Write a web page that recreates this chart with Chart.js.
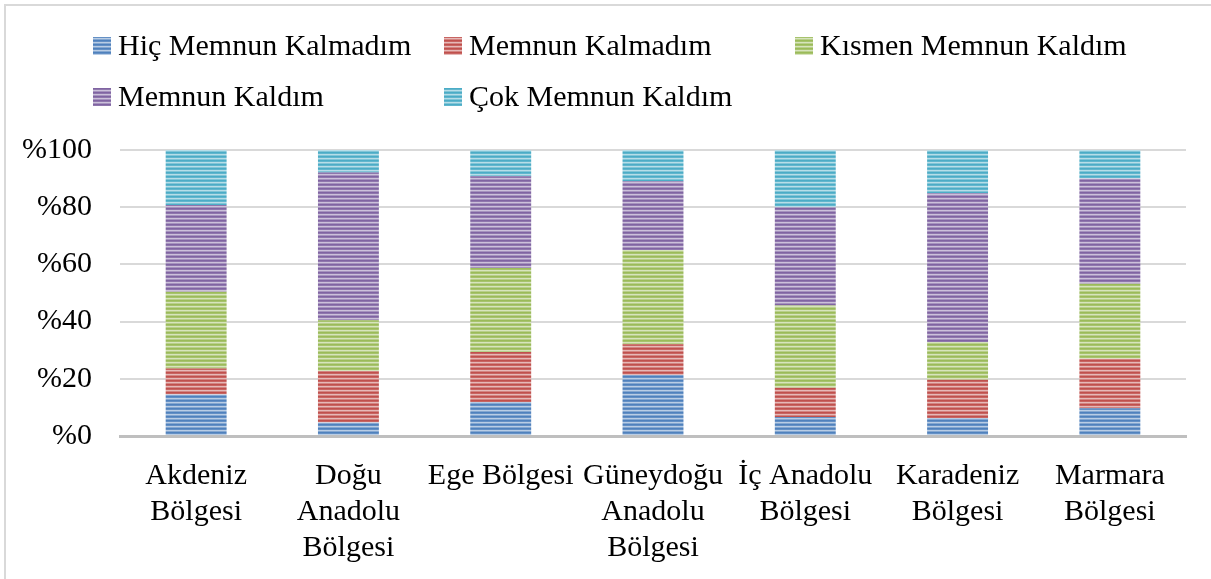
<!DOCTYPE html>
<html>
<head>
<meta charset="utf-8">
<script src="https://cdn.jsdelivr.net/npm/chart.js@4"></script>
<style>
  html, body { margin: 0; padding: 0; background: #fff; }
  #wrap { width: 1211px; height: 579px; }
</style>
</head>
<body>
<div id="wrap"><canvas id="chart" width="1211" height="579"></canvas></div>
<script>
// categories (x axis), multi-line as in the original
const regions = [
    ['Akdeniz', 'Bölgesi'],
    ['Doğu', 'Anadolu', 'Bölgesi'],
    'Ege Bölgesi',
    ['Güneydoğu', 'Anadolu', 'Bölgesi'],
    ['İç Anadolu', 'Bölgesi'],
    ['Karadeniz', 'Bölgesi'],
    ['Marmara', 'Bölgesi']
];

const seriesNames = ['Hiç Memnun Kalmadım', 'Memnun Kalmadım', 'Kısmen Memnun Kaldım', 'Memnun Kaldım', 'Çok Memnun Kaldım'];

// percent shares per region
const hicMemnunKalmadim = [14.5, 4.7, 11.9, 21.3, 6.6, 6.3, 9.7];
const memnunKalmadim    = [9.1, 18.0, 17.5, 10.8, 10.3, 13.4, 17.3];
const kismenMemnun      = [26.8, 17.8, 29.3, 32.9, 28.7, 13.2, 26.2];
const memnunKaldim      = [30.4, 51.6, 32.1, 24.1, 34.4, 52.0, 36.8];
const cokMemnunKaldim   = [19.2, 7.9, 9.2, 10.9, 20.0, 15.1, 10.0];

const yTicks = [0, 20, 40, 60, 80, 100];

const colors = ['#4f81bd', '#c0504d', '#9bbb59', '#8064a2', '#4bacc6'];
const FONT = "'Liberation Serif', 'Times New Roman', serif";
const FONT_SIZE = 30;

// mix a hex colour with white
function tint(hex, amt) {
    const n = parseInt(hex.slice(1), 16);
    const r = n >> 16, g = (n >> 8) & 255, b = n & 255;
    const f = c => Math.round(c + (255 - c) * amt);
    return `rgb(${f(r)},${f(g)},${f(b)})`;
}

// horizontal stripe fill like the office pattern
function stripes(hex) {
    const c = document.createElement('canvas');
    c.width = 4; c.height = 4;
    const x = c.getContext('2d');
    const rows = [hex, tint(hex, 0.12), tint(hex, 0.6), tint(hex, 0.3)];
    rows.forEach((col, i) => {
        x.fillStyle = col;
        x.fillRect(0, i, 4, 1);
    });
    return x.createPattern(c, 'repeat');
}

const allData = [hicMemnunKalmadim, memnunKalmadim, kismenMemnun, memnunKaldim, cokMemnunKaldim];

const datasets = seriesNames.map((name, i) => ({
    label: name,
    data: allData[i],
    backgroundColor: stripes(colors[i]),
    borderWidth: 0,
    barPercentage: 0.4,
    categoryPercentage: 1.0
}));

// legend drawn in fixed columns like the original
const legendPlugin = {
    id: 'gridLegend',
    afterDraw(chart) {
        const ctx = chart.ctx;
        const colX = [93, 444, 795];
        const rowY = [46, 97];
        ctx.save();
        ctx.font = `${FONT_SIZE}px ${FONT}`;
        ctx.textBaseline = 'middle';
        chart.data.datasets.forEach((ds, i) => {
            const x = colX[i % 3];
            const y = rowY[Math.floor(i / 3)];
            ctx.fillStyle = ds.backgroundColor;
            ctx.fillRect(x, y - 9, 18, 18);
            ctx.fillStyle = '#000';
            ctx.fillText(ds.label, x + 25, y + 1);
        });
        ctx.restore();
    }
};

// light frame round the chart
const framePlugin = {
    id: 'frame',
    beforeDraw(chart) {
        const ctx = chart.ctx;
        ctx.save();
        ctx.fillStyle = '#fff';
        ctx.fillRect(0, 0, chart.width, chart.height);
        ctx.strokeStyle = '#d9d9d9';
        ctx.lineWidth = 2;
        ctx.strokeRect(5, 5, chart.width + 20, chart.height + 20);
        ctx.restore();
    }
};

const ctx = document.getElementById('chart').getContext('2d');
const chart = new Chart(ctx, {
    type: 'bar',
    data: {
        labels: regions,
        datasets: datasets
    },
    options: {
        responsive: false,
        animation: false,
        layout: { padding: { top: 150, left: 0, right: 25, bottom: 0 } },
        plugins: {
            legend: { display: false },
            tooltip: { enabled: false }
        },
        scales: {
            x: {
                stacked: true,
                grid: { display: false, drawTicks: false },
                border: { display: true, color: '#bfbfbf', width: 3 },
                ticks: {
                    color: '#000',
                    font: { family: FONT, size: FONT_SIZE, lineHeight: 1.2 },
                    padding: 22,
                    maxRotation: 0,
                    autoSkip: false
                },
                afterFit: s => { s.height = 143; }
            },
            y: {
                stacked: true,
                min: 0,
                max: 100,
                afterBuildTicks: s => { s.ticks = yTicks.map(v => ({ value: v })); },
                grid: { color: '#d9d9d9', lineWidth: 2, drawTicks: false },
                border: { display: false },
                ticks: {
                    color: '#000',
                    font: { family: FONT, size: FONT_SIZE },
                    padding: 28,
                    callback: v => '%' + v
                },
                afterFit: s => { s.width = 120; }
            }
        }
    },
    plugins: [framePlugin, legendPlugin]
});
</script>
</body>
</html>
